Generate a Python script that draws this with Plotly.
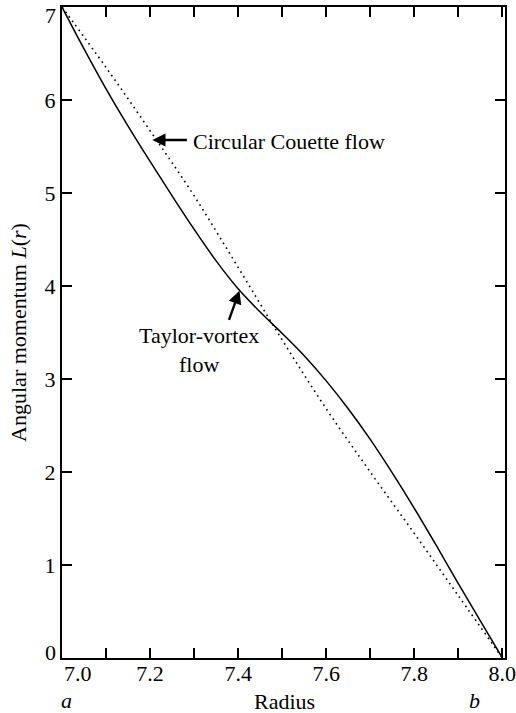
import plotly.graph_objects as go

# Data
radius_taylor = [7.0, 7.05, 7.1, 7.15, 7.2, 7.25, 7.3, 7.35, 7.4, 7.45, 7.5, 7.55, 7.6,
                 7.65, 7.7, 7.75, 7.8, 7.85, 7.9, 7.95, 8.0]
L_taylor = [7.0, 6.55, 6.12, 5.72, 5.34, 4.97, 4.61, 4.27, 3.97, 3.72, 3.49, 3.25, 2.98,
            2.68, 2.35, 1.99, 1.61, 1.21, 0.8, 0.4, 0.0]

radius_couette = [7.0, 7.1, 7.2, 7.3, 7.4, 7.5, 7.6, 7.7, 7.8, 7.9, 8.0]
L_couette = [7.0, 6.35, 5.67, 4.97, 4.2, 3.42, 2.68, 2.0, 1.34, 0.67, 0.0]

x_tickvals = [7.2, 7.4, 7.6, 7.8, 8.0]
x_ticktext = ["7.2", "7.4", "7.6", "7.8", "8.0"]
y_tickvals = [0, 1, 2, 3, 4, 5, 6, 7]
y_ticktext = ["", "1", "2", "3", "4", "5", "6", ""]

FONT = "Liberation Serif, Times New Roman, serif"
FS = 22

fig = go.Figure()
fig.add_trace(go.Scatter(x=radius_couette, y=L_couette, mode="lines",
                         line=dict(color="black", width=1.6, dash="1.6px,4px"),
                         line_shape="spline", showlegend=False))
fig.add_trace(go.Scatter(x=radius_taylor, y=L_taylor, mode="lines",
                         line=dict(color="black", width=1.5),
                         line_shape="spline", showlegend=False))

axis_common = dict(showgrid=False, zeroline=False, showline=True, linecolor="black",
                   linewidth=2.2, mirror="ticks", ticks="inside", tickcolor="black",
                   tickwidth=1.6, ticklen=10, ticklabeloverflow="allow", automargin=False,
                   tickfont=dict(family=FONT, size=FS, color="black"))

fig.update_xaxes(range=[7.0, 8.006], tickvals=x_tickvals, ticktext=x_ticktext,
                 ticklabelstandoff=-6,
                 minor=dict(dtick=0.1, tick0=7.0, ticks="inside", ticklen=10,
                            tickwidth=1.6, tickcolor="black"),
                 **axis_common)
fig.update_yaxes(range=[0, 7], tickvals=y_tickvals, ticktext=y_ticktext,
                 title=dict(text="Angular momentum <i>L</i>(<i>r</i>)",
                            font=dict(family=FONT, size=FS, color="black"), standoff=12),
                 **axis_common)

# pixel helpers for texts placed outside the plot area
plot_top, plot_bottom = 7, 658
def paper_y(px):
    return (plot_bottom - px) / (plot_bottom - plot_top)

# end tick labels nudged inward, as in the reference
fig.add_annotation(x=7.0, y=paper_y(673), xref="x", yref="paper", text="7.0",
                   showarrow=False, xanchor="left", yanchor="middle",
                   font=dict(family=FONT, size=FS, color="black"))
fig.add_annotation(x=0, y=paper_y(15), xref="paper", yref="paper", text="7",
                   showarrow=False, xanchor="right", yanchor="middle", xshift=-4,
                   font=dict(family=FONT, size=FS, color="black"))
fig.add_annotation(x=0, y=paper_y(652), xref="paper", yref="paper", text="0",
                   showarrow=False, xanchor="right", yanchor="middle", xshift=-4,
                   font=dict(family=FONT, size=FS, color="black"))
fig.add_annotation(x=7.505, y=paper_y(701), xref="x", yref="paper", text="Radius",
                   showarrow=False, xanchor="center", yanchor="middle",
                   font=dict(family=FONT, size=FS, color="black"))
fig.add_annotation(x=7.01, y=paper_y(700), xref="x", yref="paper", text="<i>a</i>",
                   showarrow=False, xanchor="center", yanchor="middle",
                   font=dict(family=FONT, size=FS, color="black"))
fig.add_annotation(x=7.937, y=paper_y(700), xref="x", yref="paper", text="<i>b</i>",
                   showarrow=False, xanchor="center", yanchor="middle",
                   font=dict(family=FONT, size=FS, color="black"))

# curve labels
fig.add_annotation(x=7.294, y=5.55, text="Circular Couette flow", showarrow=False,
                   xanchor="left", yanchor="middle",
                   font=dict(family=FONT, size=FS, color="black"))
fig.add_annotation(x=7.205, y=5.57, ax=7.287, ay=5.57, axref="x", ayref="y", text="",
                   showarrow=True, arrowhead=2, arrowsize=1.1, arrowwidth=2.4,
                   arrowcolor="black")
fig.add_annotation(x=7.31, y=3.31, text="Taylor-vortex<br>flow", showarrow=False,
                   xanchor="center", yanchor="middle", align="center",
                   font=dict(family=FONT, size=FS, color="black"))
fig.add_annotation(x=7.403, y=3.95, ax=7.378, ay=3.62, axref="x", ayref="y", text="",
                   showarrow=True, arrowhead=2, arrowsize=1.1, arrowwidth=2.4,
                   arrowcolor="black")

fig.update_layout(width=516, height=713, margin=dict(l=62, r=11, t=7, b=55),
                  paper_bgcolor="white", plot_bgcolor="white",
                  font=dict(family=FONT, color="black"))

fig.write_html("out.html")
